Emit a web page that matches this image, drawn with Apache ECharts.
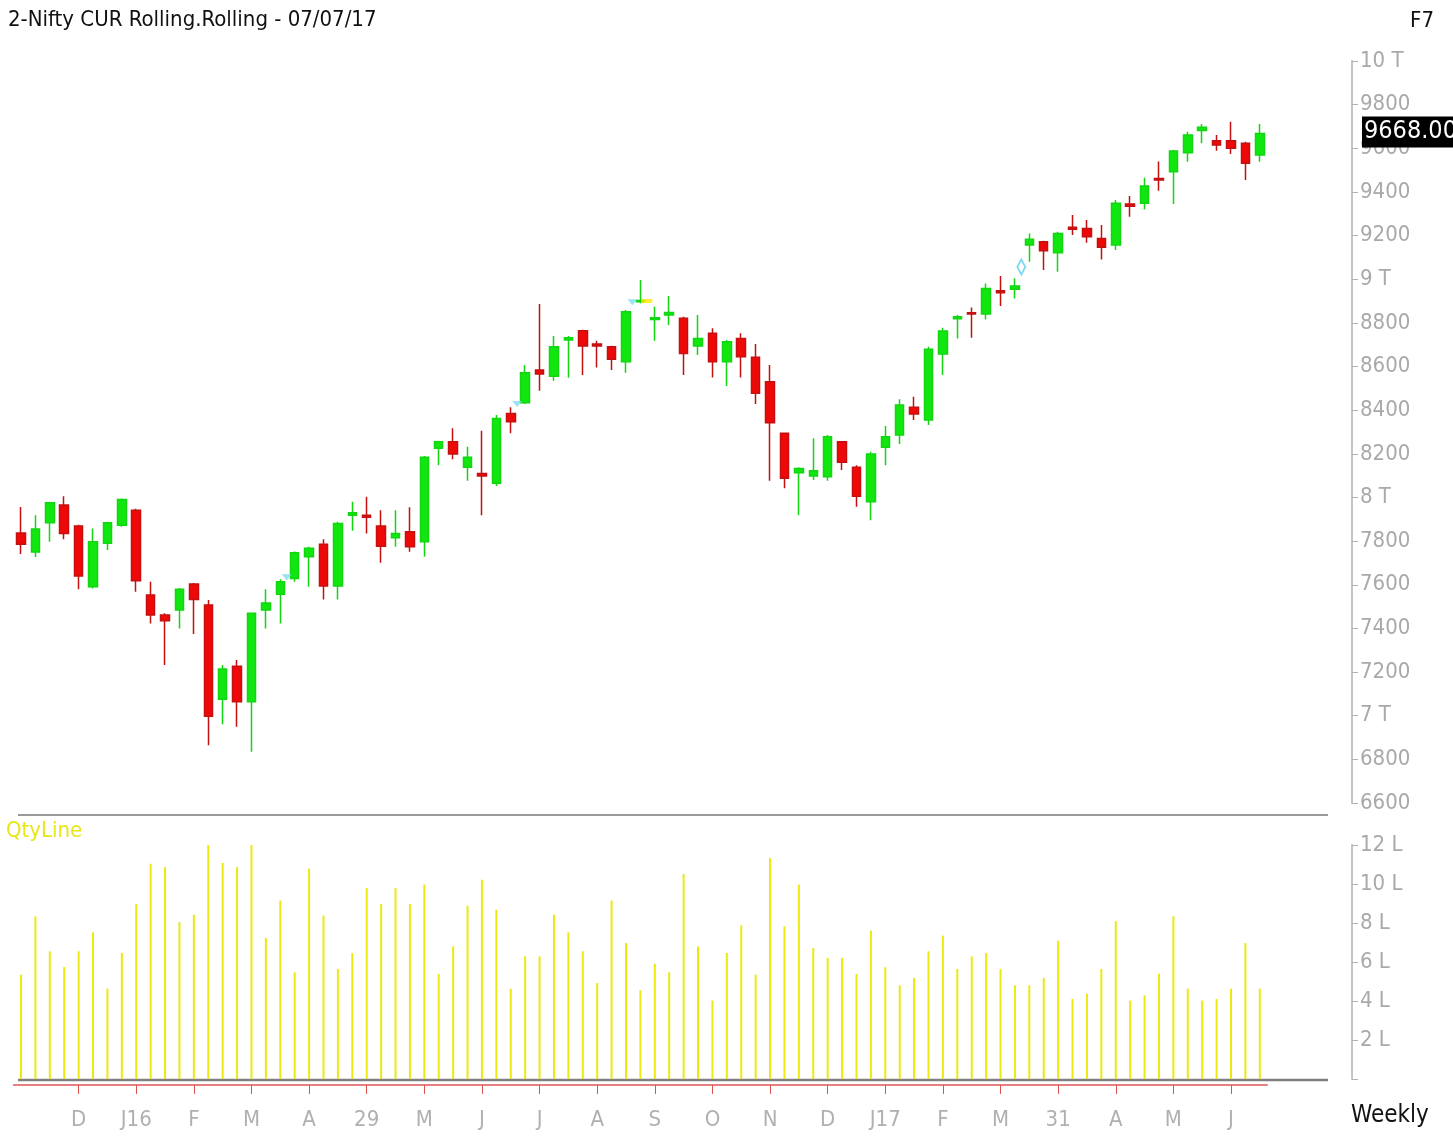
<!DOCTYPE html>
<html>
<head>
<meta charset="utf-8">
<script src="https://cdn.jsdelivr.net/npm/echarts@6/dist/echarts.min.js"></script>
<style>
html,body{margin:0;padding:0;background:#fff;}
#c{width:1453px;height:1139px;}
</style>
</head>
<body>
<div id="c"></div>
<script>
// Weekly bars (week ending Friday)
const categories = [
'2015-11-13','2015-11-20','2015-11-27','2015-12-04','2015-12-11','2015-12-18','2015-12-25',
'2016-01-01','2016-01-08','2016-01-15','2016-01-22','2016-01-29','2016-02-05','2016-02-12','2016-02-19','2016-02-26',
'2016-03-04','2016-03-11','2016-03-18','2016-03-25','2016-04-01','2016-04-08','2016-04-15','2016-04-22','2016-04-29',
'2016-05-06','2016-05-13','2016-05-20','2016-05-27','2016-06-03','2016-06-10','2016-06-17','2016-06-24',
'2016-07-01','2016-07-08','2016-07-15','2016-07-22','2016-07-29','2016-08-05','2016-08-12','2016-08-19','2016-08-26',
'2016-09-02','2016-09-09','2016-09-16','2016-09-23','2016-09-30','2016-10-07','2016-10-14','2016-10-21','2016-10-28',
'2016-11-04','2016-11-11','2016-11-18','2016-11-25','2016-12-02','2016-12-09','2016-12-16','2016-12-23','2016-12-30',
'2017-01-06','2017-01-13','2017-01-20','2017-01-27','2017-02-03','2017-02-10','2017-02-17','2017-02-24',
'2017-03-03','2017-03-10','2017-03-17','2017-03-24','2017-03-31','2017-04-07','2017-04-14','2017-04-21','2017-04-28',
'2017-05-05','2017-05-12','2017-05-19','2017-05-26','2017-06-02','2017-06-09','2017-06-16','2017-06-23','2017-06-30','2017-07-07'
];
// tick labels shown every 4th week starting at index 4
const tickLabels = ['D','J16','F','M','A','29','M','J','J','A','S','O','N','D','J17','F','M','31','A','M','J'];

const openP = [7837,7750,7884,7965,7869,7591,7790,7873,7942,7553,7461,7484,7603,7507,7075,7227,7064,7484,7557,7629,
7728,7786,7594,7919,7919,7869,7815,7843,7797,8225,8255,8138,8110,8065,8385,8434,8584,8556,8721,8764,
8703,8691,8622,8897,8816,8836,8821,8694,8752,8622,8729,8642,8530,8294,8113,8098,8095,8255,8138,7980,
8230,8286,8413,8355,8657,8819,8847,8841,8947,8954,9157,9172,9121,9238,9233,9187,9157,9345,9348,9462,
9493,9580,9681,9635,9635,9623,9569];
const highP = [7956,7919,7980,8006,7875,7858,7889,7995,7948,7614,7469,7585,7608,7530,7232,7255,7472,7579,7625,7752,
7774,7808,7889,7980,8003,7942,7942,7955,8190,8260,8317,8232,8306,8378,8413,8607,8886,8740,8740,8768,
8718,8695,8859,8996,8874,8923,8828,8836,8775,8721,8752,8703,8607,8298,8138,8271,8286,8259,8148,8209,
8327,8450,8462,8691,8778,8836,8871,8981,9015,9004,9210,9176,9218,9294,9271,9248,9363,9381,9465,9539,
9592,9676,9711,9661,9722,9630,9711];
const lowP = [7741,7727,7797,7808,7580,7583,7759,7866,7568,7423,7232,7400,7374,6865,6961,6949,6835,7400,7423,7614,
7591,7533,7533,7847,7835,7701,7774,7751,7728,8148,8175,8077,7919,8052,8294,8428,8489,8535,8549,8561,
8596,8584,8571,8890,8718,8790,8561,8653,8550,8511,8550,8428,8077,8042,7919,8080,8077,8126,7957,7896,
8148,8245,8355,8332,8561,8729,8732,8816,8877,8912,9080,9042,9034,9203,9167,9091,9134,9286,9320,9406,
9345,9538,9623,9589,9574,9455,9538];
const closeP = [7786,7855,7976,7835,7640,7797,7884,7991,7618,7461,7435,7579,7533,6998,7214,7064,7469,7517,7614,7747,
7767,7594,7881,7930,7909,7777,7835,7774,8184,8255,8199,8184,8098,8362,8347,8571,8566,8691,8732,8694,
8694,8633,8851,8902,8824,8848,8660,8729,8622,8714,8645,8477,8342,8088,8133,8122,8278,8161,8006,8199,
8278,8424,8382,8679,8763,8828,8841,8958,8938,8969,9183,9131,9210,9229,9195,9146,9348,9335,9427,9455,
9588,9661,9696,9615,9600,9531,9668];
// volume in lakh
const qty = [5.35,8.34,6.55,5.74,6.55,7.52,4.63,6.46,8.97,11.04,10.87,8.05,8.43,12.22,11.08,10.87,12.14,7.23,9.15,5.47,
10.79,8.38,5.64,6.46,9.79,8.97,9.79,8.97,9.97,5.38,6.80,8.89,10.22,8.68,4.63,6.29,6.29,8.43,7.52,6.55,
4.92,9.15,6.97,4.55,5.91,5.47,10.51,6.80,4.02,6.46,7.88,5.35,11.33,7.83,9.97,6.72,6.21,6.21,5.38,7.61,
5.73,4.80,5.18,6.55,7.35,5.64,6.29,6.46,5.64,4.80,4.80,5.18,7.09,4.10,4.38,5.64,8.09,4.02,4.29,5.40,
8.34,4.63,4.02,4.10,4.63,6.97,4.63];
// small gap markers drawn before a bar
const markIdx = [19, 35, 43, 44, 70];
const markPrice = [7635, 8428, 8895, 8900, 9056];
const markKind = ['tri', 'tri', 'tri', 'bar', 'diamond'];

const FONT = '"Liberation Sans Narrow","DejaVu Sans Condensed","Liberation Sans",sans-serif';
const GRAY = '#a9a9a9';

const candleData = categories.map((_, i) => [openP[i], closeP[i], lowP[i], highP[i]]);
const markData = markIdx.map((ix, k) => {
  const kind = markKind[k];
  let sym = 'triangle', size = [10, 6], rot = 180, color = '#7fdcef', border = '#7fdcef', bw = 0;
  if (kind === 'bar') { sym = 'rect'; size = [11, 4]; rot = 0; color = '#ffe800'; border = '#ffe800'; }
  if (kind === 'diamond') { sym = 'diamond'; size = [8, 15]; rot = 0; color = 'rgba(255,255,255,0)'; border = '#5fd0ea'; bw = 2; }
  return { value: [ix, markPrice[k]], symbol: sym, symbolSize: size, symbolRotate: rot,
    itemStyle: { color: color, borderColor: border, borderWidth: bw } };
});

const chart = echarts.init(document.getElementById('c'), null, { renderer: 'canvas' });
const gridLeft = 13.8, gridWidth = 1253.2;

const option = {
  animation: false,
  backgroundColor: '#ffffff',
  grid: [
    { left: gridLeft, width: gridWidth, top: 61, height: 742 },
    { left: gridLeft, width: gridWidth, top: 845, height: 234 }
  ],
  xAxis: [
    { type: 'category', gridIndex: 0, data: categories, boundaryGap: true,
      axisLine: { show: false, onZero: false }, axisTick: { show: false }, axisLabel: { show: false }, splitLine: { show: false } },
    { type: 'category', gridIndex: 1, data: categories, boundaryGap: true, offset: 6,
      axisLine: { show: true, onZero: false, lineStyle: { color: '#e88080', width: 2 } },
      axisTick: { show: true, alignWithLabel: true, length: 9, lineStyle: { color: '#e05050', width: 1 },
        interval: (i) => i > 0 && i % 4 === 0 },
      axisLabel: { show: true, interval: (i) => i > 0 && i % 4 === 0, margin: 24,
        color: '#b0b0b0', fontSize: 22, fontFamily: FONT,
        formatter: (v, i) => (i > 0 && i % 4 === 0) ? (tickLabels[i / 4 - 1] || '') : '' },
      splitLine: { show: false } }
  ],
  yAxis: [
    { type: 'value', gridIndex: 0, position: 'right', offset: 85, min: 6600, max: 10000, interval: 200,
      axisLine: { show: true, lineStyle: { color: '#c4c4c4', width: 2 } },
      axisTick: { show: true, length: 6, lineStyle: { color: '#b0b0b0' } },
      axisLabel: { show: true, margin: 8, color: GRAY, fontSize: 22, fontFamily: FONT,
        formatter: (v) => (v % 1000 === 0) ? (v / 1000) + ' T' : String(v) },
      splitLine: { show: false } },
    { type: 'value', gridIndex: 1, position: 'right', offset: 85, min: 0, max: 12, interval: 2,
      axisLine: { show: true, lineStyle: { color: '#c4c4c4', width: 2 } },
      axisTick: { show: true, length: 6, lineStyle: { color: '#b0b0b0' } },
      axisLabel: { show: true, margin: 8, color: GRAY, fontSize: 22, fontFamily: FONT,
        formatter: (v) => v === 0 ? '' : v + ' L' },
      splitLine: { show: false } }
  ],
  series: [
    { type: 'candlestick', xAxisIndex: 0, yAxisIndex: 0, data: candleData, barWidth: 9,
      itemStyle: { color: '#11e611', color0: '#ee0808', borderColor: '#11d611', borderColor0: '#c41010', borderWidth: 1.5 } },
    { type: 'scatter', xAxisIndex: 0, yAxisIndex: 0, data: markData, symbolOffset: [-8, 0], z: 5 },
    { type: 'bar', xAxisIndex: 1, yAxisIndex: 1, data: qty, barWidth: 2,
      itemStyle: { color: '#eaea10' } }
  ],
  graphic: [
    { type: 'text', left: 8, top: 9, style: { text: '2-Nifty CUR Rolling.Rolling - 07/07/17', fill: '#111', font: '22px ' + FONT } },
    { type: 'text', left: 1410, top: 10, style: { text: 'F7', fill: '#111', font: '22px ' + FONT } },
    { type: 'text', left: 6, top: 820, style: { text: 'QtyLine', fill: '#e6e619', font: '22px ' + FONT } },
    { type: 'text', left: 1351, top: 1104, style: { text: 'Weekly', fill: '#111', font: '24px ' + FONT } },
    { type: 'line', shape: { x1: 18, y1: 815, x2: 1328, y2: 815 }, style: { stroke: '#9a9a9a', lineWidth: 2 } },
    { type: 'line', shape: { x1: 18, y1: 1080, x2: 1328, y2: 1080 }, style: { stroke: '#808080', lineWidth: 2.5 } }
  ]
};
chart.setOption(option);

// last price label on the price axis, placed through the axis scale
const lastClose = closeP[closeP.length - 1];
const py = chart.convertToPixel({ yAxisIndex: 0 }, lastClose);
chart.setOption({
  graphic: option.graphic.concat([
    { type: 'rect', shape: { x: 1362, y: py - 17, width: 91, height: 31 }, style: { fill: '#000' }, z: 100 },
    { type: 'text', x: 1364, y: py - 14, z: 101, style: { text: lastClose.toFixed(2), fill: '#fff', font: '25px ' + FONT } }
  ])
});
</script>
</body>
</html>
